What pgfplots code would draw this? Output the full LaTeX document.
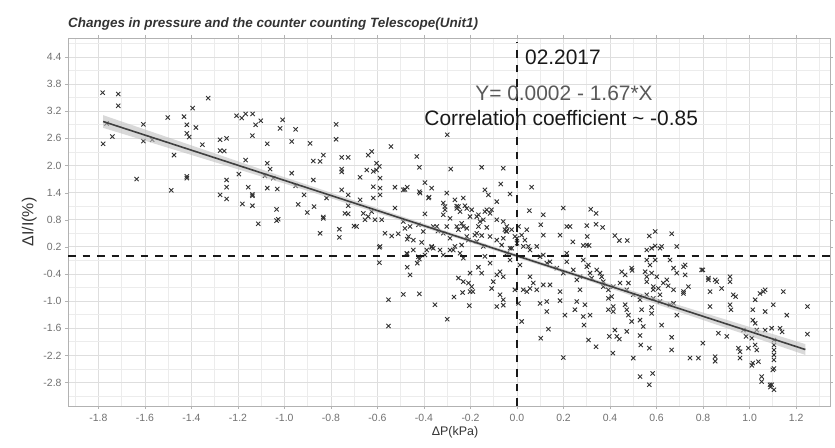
\documentclass[border=0pt]{standalone}
\usepackage{fontspec}
\setmainfont{Liberation Sans}
\usepackage{pgfplots}
\pgfplotsset{compat=1.18}
\definecolor{gridmaj}{HTML}{DEDEDE}
\definecolor{gridmin}{HTML}{ECECEC}
\definecolor{ticktext}{HTML}{707070}
\definecolor{labtext}{HTML}{333333}
\begin{document}
\begin{tikzpicture}
\path[use as bounding box] (-68bp,-42bp) rectangle (767bp,406bp);
\begin{axis}[
  name=ax, at={(0,0)}, anchor=south west,
  scale only axis, width=762bp, height=368bp,
  xmin=-1.931, xmax=1.346, ymin=-3.32, ymax=4.82,
  xtick={-1.8,-1.6,-1.4,-1.2,-1,-0.8,-0.6,-0.4,-0.2,0,0.2,0.4,0.6,0.8,1,1.2},
  ytick={-2.8,-2.2,-1.6,-1,-0.4,0.2,0.8,1.4,2,2.6,3.2,3.8,4.4},
  minor xtick={-1.9,-1.7,-1.5,-1.3,-1.1,-0.9,-0.7,-0.5,-0.3,-0.1,0.1,0.3,0.5,0.7,0.9,1.1,1.3},
  minor ytick={-3.1,-2.5,-1.9,-1.3,-0.7,-0.1,0.5,1.1,1.7,2.3,2.9,3.5,4.1,4.7},
  grid=both,
  major grid style={draw=gridmaj, line width=0.8bp},
  minor grid style={draw=gridmin, line width=0.8bp},
  axis line style={draw=black!30},
  tick style={draw=black!30}, tick align=outside, major tick length=3bp, minor tick length=0bp,
  /pgf/number format/assume math mode=true,
  /pgf/number format/fixed, /pgf/number format/fixed zerofill, /pgf/number format/precision=1,
  ticklabel style={font=\fontsize{10.5}{12}\selectfont, text=ticktext},
  xticklabel style={yshift=-2bp},
  xlabel={ΔP(kPa)}, ylabel={ΔI/I(\%)},
  xlabel style={font=\fontsize{12.5}{14}\selectfont, text=labtext, xshift=6bp, yshift=2bp},
  ylabel style={font=\fontsize{16}{18}\selectfont, text=labtext},
  clip mode=individual,
]
\addplot[only marks, mark=x, mark size=3bp, mark options={draw=black!80, line width=0.9bp}] table {
x y
-1.782 3.61
-1.715 3.58
-1.715 3.32
-1.78 2.48
-1.74 2.64
-1.765 2.93
-1.607 2.91
-1.607 2.54
-1.569 2.57
-1.636 1.70
-1.502 3.06
-1.487 1.45
-1.475 2.23
-1.432 3.08
-1.395 3.27
-1.328 3.49
-1.42 2.90
-1.42 2.71
-1.41 2.63
-1.381 2.84
-1.42 1.72
-1.42 1.76
-1.353 2.46
-1.277 2.57
-1.249 2.60
-1.277 2.33
-1.259 2.32
-1.249 1.68
-1.249 1.52
-1.277 1.35
-1.249 1.26
-1.206 3.10
-1.184 3.05
-1.167 3.14
-1.137 3.14
-1.124 2.90
-1.102 2.99
-1.138 2.66
-1.167 2.12
-1.196 1.81
-1.156 1.52
-1.138 1.33
-1.138 1.36
-1.181 1.15
-1.138 1.11
-1.113 0.71
-1.074 2.48
-1.074 2.05
-1.062 1.92
-1.084 1.77
-1.048 1.72
-1.074 1.50
-1.031 1.48
-1.034 1.03
-1.027 0.81
-1.034 0.78
-1.008 3.01
-1.019 2.82
-0.952 2.80
-0.969 2.53
-0.969 1.83
-0.952 1.55
-0.916 1.35
-0.941 1.14
-0.890 2.49
-0.876 2.10
-0.847 2.09
-0.833 2.23
-0.876 1.68
-0.873 1.09
-0.902 0.96
-0.833 0.86
-0.833 0.83
-0.847 0.50
-0.819 1.28
-0.778 2.91
-0.778 2.58
-0.754 2.18
-0.726 2.18
-0.754 1.92
-0.754 1.86
-0.754 1.46
-0.726 1.35
-0.726 1.11
-0.740 0.94
-0.726 0.93
-0.764 0.59
-0.764 0.41
-0.701 0.66
-0.675 1.74
-0.646 1.90
-0.640 2.23
-0.625 2.31
-0.618 1.87
-0.604 2.05
-0.592 1.98
-0.604 1.90
-0.589 1.72
-0.618 1.53
-0.589 1.50
-0.618 1.28
-0.589 1.35
-0.675 1.24
-0.661 0.94
-0.640 0.87
-0.625 0.98
-0.654 0.80
-0.582 0.80
-0.611 0.80
-0.690 0.65
-0.568 0.50
-0.539 0.44
-0.511 0.49
-0.589 0.21
-0.542 2.42
-0.525 1.52
-0.525 1.06
-0.489 1.46
-0.472 1.52
-0.489 0.76
-0.460 0.65
-0.472 0.37
-0.431 2.20
-0.420 1.96
-0.420 1.42
-0.396 1.62
-0.367 1.50
-0.378 1.30
-0.396 0.93
-0.410 0.30
-0.367 0.21
-0.345 0.65
-0.340 0.55
-0.302 1.39
-0.300 2.68
-0.285 1.92
-0.310 1.09
-0.317 0.91
-0.288 0.83
-0.302 0.65
-0.259 1.05
-0.259 1.10
-0.231 1.28
-0.224 1.11
-0.259 0.65
-0.231 0.65
-0.216 0.43
-0.202 0.87
-0.173 0.87
-0.152 1.96
-0.138 1.46
-0.123 1.35
-0.130 1.02
-0.116 0.94
-0.110 1.02
-0.145 0.80
-0.166 0.65
-0.130 0.63
-0.173 0.50
-0.152 0.45
-0.087 1.20
-0.070 1.59
-0.059 1.94
-0.030 1.37
-0.059 0.76
-0.052 0.58
-0.047 0.55
-0.059 0.39
-0.009 0.43
0.006 0.65
0.000 0.28
0.063 1.52
0.053 1.00
0.113 0.91
0.102 0.69
0.113 0.46
0.199 1.06
0.214 0.65
0.185 0.46
0.317 1.03
0.340 0.94
0.300 0.67
0.340 0.70
0.368 0.63
0.302 0.43
0.285 0.23
0.310 0.23
0.228 0.65
0.240 0.31
0.421 0.45
0.440 0.34
0.474 0.34
0.569 0.44
0.594 0.54
0.665 0.49
0.579 0.17
0.622 0.21
0.687 0.21
-0.592 0.19
-0.592 -0.15
-0.472 0.04
-0.472 -0.25
-0.460 -0.42
-0.429 -0.16
-0.420 -0.07
-0.396 0.02
-0.388 0.13
-0.367 0.19
-0.553 -0.97
-0.553 -1.55
-0.489 -0.85
-0.420 -0.84
-0.353 -1.08
-0.300 -1.40
-0.271 -0.91
-0.234 -0.81
-0.205 -1.10
-0.202 -0.79
-0.317 0.02
-0.288 0.13
-0.267 0.21
-0.245 0.06
-0.231 -0.05
-0.252 -0.49
-0.231 -0.57
-0.209 -0.60
-0.195 -0.68
-0.190 -0.79
-0.166 -0.25
-0.152 -0.38
-0.202 -0.38
-0.138 -0.01
-0.116 -0.16
-0.102 -0.57
-0.109 -0.72
-0.087 -0.42
-0.073 -0.35
-0.059 -0.46
-0.073 -0.86
-0.059 -0.97
-0.087 -1.12
-0.059 -1.09
-0.044 0.06
-0.030 -0.09
-0.023 0.17
-0.009 -0.75
0.013 -0.20
0.006 -1.05
0.020 -1.45
0.027 -0.75
0.042 -0.79
0.056 -0.72
0.070 -0.60
0.056 -0.46
0.085 -0.75
0.113 -0.64
0.142 -0.64
0.099 -1.05
0.128 -1.01
0.128 -1.23
0.135 -1.62
0.102 -1.82
0.185 -0.79
0.185 -0.99
0.199 -2.25
0.206 -1.31
0.113 0.02
0.142 -0.13
0.171 -0.27
0.199 -0.38
0.214 0.06
0.056 0.13
0.085 0.21
0.027 0.21
0.249 -1.19
0.257 -1.01
0.257 -0.53
0.271 -0.75
0.285 -0.09
0.307 -0.20
0.314 -0.38
0.292 -1.08
0.285 -1.34
0.288 -1.53
0.307 -1.86
0.340 -2.01
0.314 -1.31
0.300 0.24
0.343 -0.31
0.364 -0.46
0.371 -0.68
0.393 -0.75
0.393 -0.94
0.393 -1.19
0.407 -0.90
0.414 -1.12
0.414 -1.23
0.397 -1.78
0.421 -1.64
0.429 -1.78
0.440 -1.84
0.412 -2.15
0.450 -0.35
0.465 -0.42
0.479 -0.60
0.493 -0.27
0.495 -0.32
0.465 -1.08
0.472 -1.19
0.479 -1.31
0.472 -1.67
0.493 -1.45
0.500 -2.26
0.529 -0.97
0.536 -1.19
0.529 -1.42
0.543 -1.56
0.529 -1.76
0.532 -1.97
0.569 -2.04
0.529 -2.67
0.583 -2.60
0.569 -2.85
0.558 0.13
0.594 0.22
0.615 0.17
0.558 -0.09
0.572 -0.20
0.594 -0.09
0.551 -0.35
0.579 -0.38
0.601 -0.46
0.558 -0.57
0.586 -0.68
0.608 -0.72
0.629 -0.60
0.644 -0.53
0.558 -0.86
0.586 -0.94
0.615 -1.01
0.579 -1.27
0.579 -1.14
0.622 -1.53
0.658 -1.08
0.673 -1.05
0.687 -1.31
0.665 -1.80
0.665 -2.08
0.658 -0.09
0.673 -0.27
0.687 -0.38
0.716 -0.24
0.723 -0.42
0.716 -0.79
0.737 -0.68
0.744 -2.26
0.780 -2.26
0.799 -0.31
0.799 -1.93
0.823 -0.53
0.830 -0.79
0.830 -1.12
0.859 -0.57
0.866 -1.71
0.852 -2.23
0.852 -2.33
0.880 -0.72
0.902 -1.78
0.916 -0.46
0.916 -0.57
0.916 -1.08
0.920 -1.19
0.930 -0.86
0.940 -0.90
0.959 -2.12
0.959 -2.26
0.985 -1.78
1.014 -1.19
1.014 -1.42
1.024 -0.97
1.024 -1.49
1.031 -1.64
1.024 -1.97
1.014 -2.37
1.010 -2.42
1.031 -2.08
1.059 -0.79
1.067 -1.23
1.067 -1.64
1.052 -2.67
1.052 -2.78
1.095 -1.60
1.105 -1.86
1.105 -1.97
1.105 -2.08
1.105 -2.19
1.105 -2.30
1.105 -2.49
1.102 -1.08
1.095 -2.85
1.105 -2.96
1.090 -2.90
1.131 -1.60
1.140 -1.68
1.145 -0.79
1.160 -1.31
1.249 -1.12
1.249 -1.73
0.974 -1.64
1.010 -1.82
0.952 -2.04
0.995 -2.04
1.038 -2.34
1.088 -2.85
1.100 -2.52
-0.482 1.47
-0.417 1.39
-0.381 1.28
-0.317 1.17
-0.310 1.02
-0.267 1.24
-0.252 1.09
-0.245 0.98
-0.216 1.05
-0.195 1.02
-0.166 0.91
-0.138 0.98
-0.159 0.76
-0.087 0.80
-0.044 0.65
-0.044 0.54
-0.023 0.58
0.000 0.39
0.020 0.46
0.042 0.58
0.034 0.35
0.049 0.21
-0.030 0.17
-0.066 0.24
-0.087 0.35
-0.116 0.43
-0.181 0.46
-0.209 0.35
-0.238 0.24
-0.274 0.13
-0.331 0.13
-0.360 0.17
-0.424 -0.02
-0.446 0.13
-0.474 0.06
-0.467 0.43
-0.446 0.35
-0.482 0.61
-0.424 0.69
-0.403 0.54
-0.360 0.65
-0.317 0.50
-0.288 0.39
-0.252 0.58
-0.238 0.72
-0.216 0.61
-0.173 0.32
-0.145 0.21
0.794 -0.31
0.852 -0.53
1.045 -0.83
1.067 -0.75
0.723 -0.20
0.716 -0.83
0.823 -0.49
0.099 -0.02
0.128 -0.16
0.214 -0.13
0.242 -0.31
0.271 -0.46
0.300 -0.24
0.321 -0.49
0.357 -0.38
0.371 -0.57
0.414 -0.68
0.443 -0.60
0.472 -0.75
0.500 -0.86
0.529 -0.90
0.558 -0.46
0.586 -0.75
0.615 -0.86
0.650 -0.66
0.673 -0.75
};
% confidence band
\addplot[draw=none, fill=black!25, fill opacity=0.6] coordinates {
(-1.78,3.113) (-1.0,1.740) (-0.3,0.541) (0.3,-0.461) (1.24,-1.951)
(1.24,-2.191) (0.3,-0.541) (-0.3,0.461) (-1.0,1.600) (-1.78,2.833)};
% regression line
\addplot[draw=black!75, line width=1.6bp] coordinates {(-1.78,2.973) (1.24,-2.071)};
% reference lines
\addplot[draw=black!90, line width=2.3bp, dash pattern=on 7.5bp off 7bp] coordinates {(0,-3.32) (0,4.73)};
\addplot[draw=black!90, line width=2.3bp, dash pattern=on 7.5bp off 7bp] coordinates {(-1.931,0) (1.346,0)};
% annotations
\node[anchor=base west, inner sep=0pt, font=\fontsize{21}{24}\selectfont, text=black!90] at (axis cs:0.034,4.23) {02.2017};
\node[anchor=base, inner sep=0pt, font=\fontsize{21}{24}\selectfont, text=black!65] at (axis cs:0.202,3.44) {Y= 0.0002 - 1.67*X};
\node[anchor=base, inner sep=0pt, font=\fontsize{21}{24}\selectfont, text=black!90] at (axis cs:0.19,2.88) {Correlation coefficient \textasciitilde{} -0.85};
\end{axis}
\node[anchor=base west, inner sep=0pt, font=\bfseries\itshape\fontsize{13.5}{15}\selectfont, text=black!80] at ([yshift=10bp]ax.north west) {Changes in pressure and the counter counting Telescope(Unit1)};
\end{tikzpicture}
\end{document}
